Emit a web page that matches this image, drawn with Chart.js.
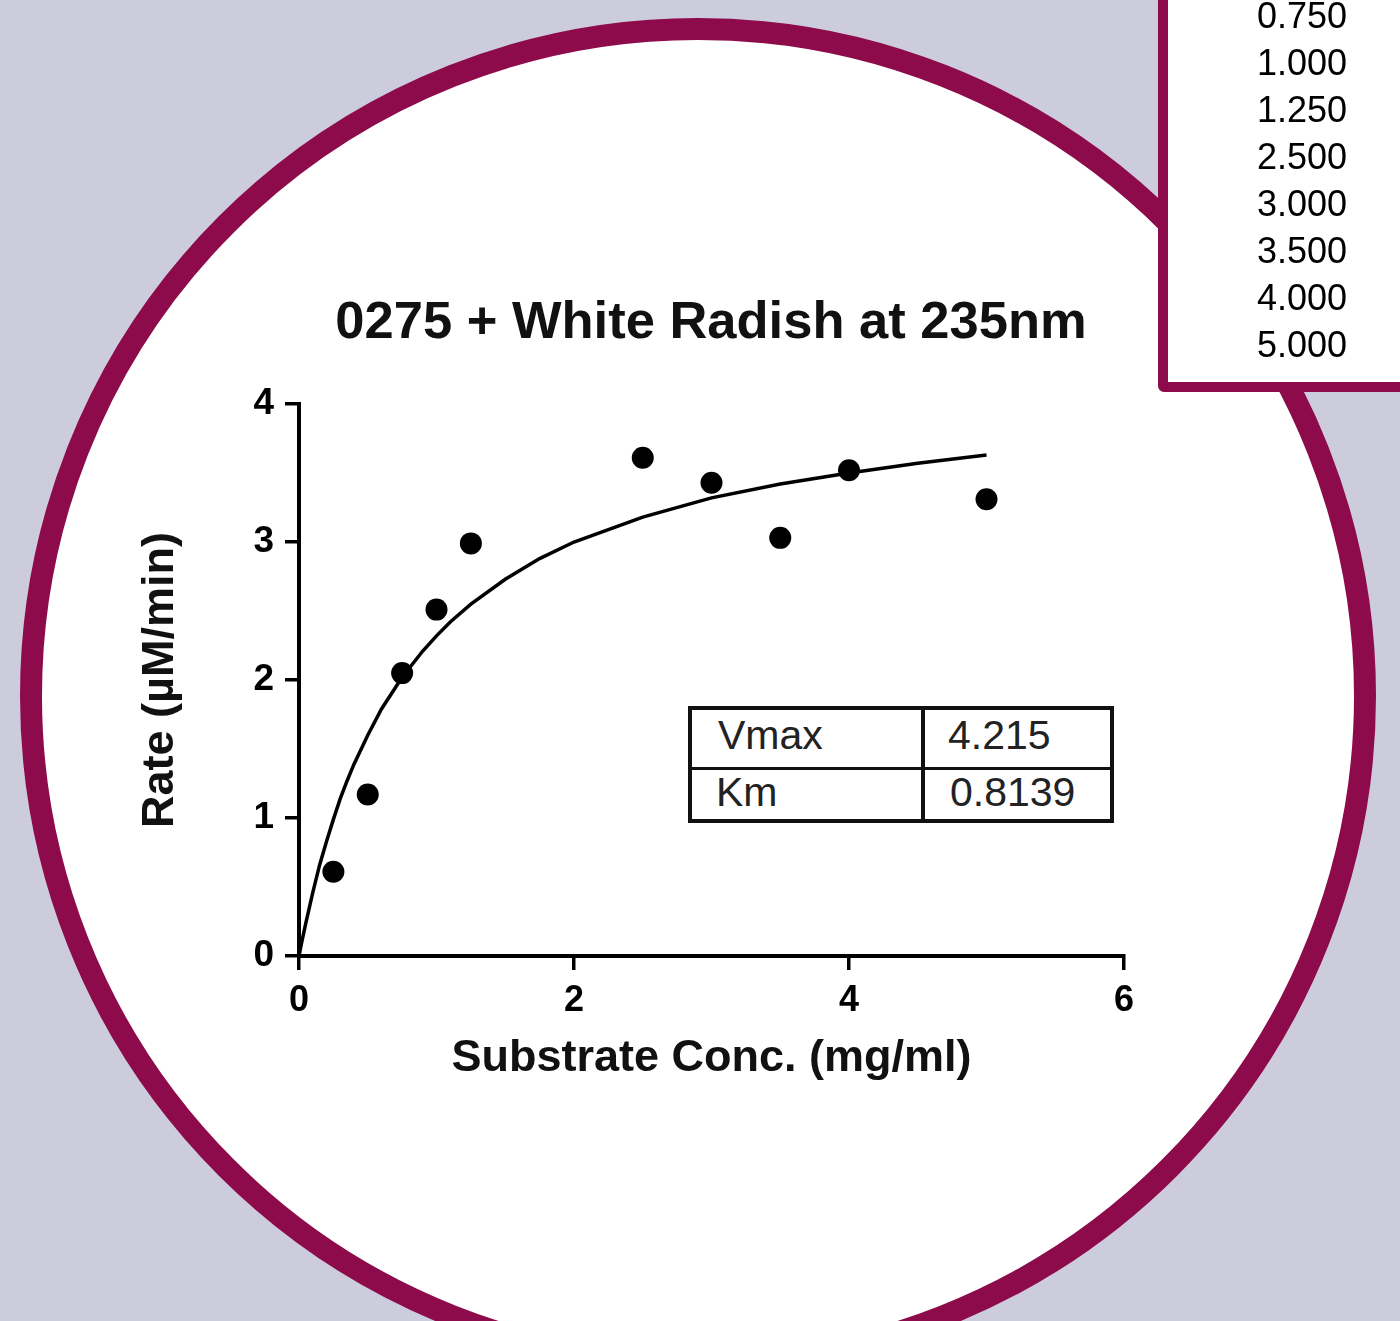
<!DOCTYPE html>
<html>
<head>
<meta charset="utf-8">
<script src="https://cdn.jsdelivr.net/npm/chart.js@4.4.1/dist/chart.umd.min.js"></script>
<style>
  html, body { margin: 0; padding: 0; }
  body { width: 1400px; height: 1321px; overflow: hidden; background: #cdccdd; position: relative; font-family: 'Liberation Sans', Arial, sans-serif; }
  #circle { position: absolute; left: 20px; top: 18px; width: 1356px; height: 1356px; box-sizing: border-box; border: 22px solid #8e0b4b; border-radius: 50%; background: #fff; }
  #box { position: absolute; left: 1158px; top: -20px; width: 300px; height: 412px; box-sizing: border-box; border: 10px solid #8e0b4b; border-radius: 6px; background: #fff; }
  .blabel { position: absolute; right: 53px; font-size: 36px; line-height: 40px; color: #000; text-align: right; }
  #title { position: absolute; left: 311px; width: 800px; top: 289px; text-align: center; font-size: 52.5px; line-height: 62px; font-weight: bold; color: #111; white-space: nowrap; }
  #cv { position: absolute; left: 0; top: 0; }
  #tbl { position: absolute; left: 688px; top: 706px; width: 426px; height: 117px; box-sizing: border-box; border: 4px solid #111; }
  .vdiv { position: absolute; left: 229px; top: 0; width: 4px; height: 100%; background: #111; }
  .hdiv { position: absolute; left: 0; top: 57px; width: 100%; height: 3px; background: #111; }
  .cell { position: absolute; font-size: 41px; line-height: 50px; color: #222; }
</style>
</head>
<body>
<div id="circle"></div>
<div id="box"></div>
<div id="title"></div>
<div id="tbl"><div class="vdiv"></div><div class="hdiv"></div></div>
<canvas id="cv" width="1400" height="1321"></canvas>
<script>
// ---- data ----
const substrate = [0.25, 0.5, 0.75, 1.0, 1.25, 2.5, 3.0, 3.5, 4.0, 5.0];
const rate = [0.61, 1.17, 2.05, 2.51, 2.99, 3.61, 3.43, 3.03, 3.52, 3.31];
const fitX = [0, 0.02, 0.05, 0.1, 0.15, 0.2, 0.25, 0.3, 0.35, 0.4, 0.5, 0.6, 0.75, 0.9, 1.0, 1.1, 1.25, 1.5, 1.75, 2.0, 2.5, 3.0, 3.5, 4.0, 4.5, 5.0];
const fitY = [0, 0.10, 0.24, 0.46, 0.66, 0.83, 0.99, 1.14, 1.27, 1.39, 1.60, 1.79, 2.02, 2.21, 2.32, 2.42, 2.55, 2.73, 2.88, 3.00, 3.18, 3.32, 3.42, 3.50, 3.57, 3.63];
const boxLabels = ['0.750', '1.000', '1.250', '2.500', '3.000', '3.500', '4.000', '5.000'];
const paramNames = ['Vmax', 'Km'];
const paramValues = ['4.215', '0.8139'];
const titleText = '0275 + White Radish at 235nm';
const xTitle = 'Substrate Conc. (mg/ml)';
const yTitle = 'Rate (\u00B5M/min)';

document.getElementById('title').textContent = titleText;

// ---- side box labels ----
boxLabels.forEach((t, i) => {
  const d = document.createElement('div');
  d.className = 'blabel';
  d.textContent = t;
  d.style.top = (16 + 47 * i - 20) + 'px';
  document.body.appendChild(d);
});

// ---- parameter table ----
const tbl = document.getElementById('tbl');
paramNames.forEach((n, i) => {
  const a = document.createElement('div');
  a.className = 'cell'; a.textContent = n;
  a.style.left = (i === 0 ? 26 : 24) + 'px';
  a.style.top = (i === 0 ? 0 : 57) + 'px';
  tbl.appendChild(a);
  const b = document.createElement('div');
  b.className = 'cell'; b.textContent = paramValues[i];
  b.style.left = (i === 0 ? 256 : 258) + 'px';
  b.style.top = (i === 0 ? 0 : 57) + 'px';
  tbl.appendChild(b);
});

// ---- chart ----
const pts = substrate.map((x, i) => ({ x: x, y: rate[i] }));
const curve = fitX.map((x, i) => ({ x: x, y: fitY[i] }));
const FONT = "'Liberation Sans', Arial, sans-serif";

new Chart(document.getElementById('cv'), {
  type: 'scatter',
  data: {
    datasets: [
      { data: pts, backgroundColor: '#000', borderColor: '#000', pointRadius: 11, pointBorderWidth: 0, showLine: false },
      { data: curve, showLine: true, borderColor: '#000', borderWidth: 3.5, pointRadius: 0, fill: false, tension: 0 }
    ]
  },
  options: {
    responsive: false,
    animation: false,
    layout: { padding: { left: 131, right: 276, top: 404, bottom: 235 } },
    plugins: {
      legend: { display: false },
      tooltip: { enabled: false },
      title: { display: false }
    },
    scales: {
      x: {
        type: 'linear', min: 0, max: 6,
        afterFit: s => { s.height = 130; },
        ticks: { stepSize: 2, color: '#000', padding: 9, font: { family: FONT, size: 36, weight: 'bold' } },
        grid: { drawOnChartArea: false, drawTicks: true, tickLength: 14, color: '#000', lineWidth: 3.5 },
        border: { display: true, color: '#000', width: 4 },
        title: { display: true, text: xTitle, color: '#111', padding: { top: 0, bottom: 0 },
                 font: { family: FONT, size: 45, weight: 'bold', lineHeight: 1.2 } }
      },
      y: {
        type: 'linear', min: 0, max: 4,
        afterFit: s => { s.width = 168; },
        ticks: { stepSize: 1, color: '#000', padding: 11, font: { family: FONT, size: 37, weight: 'bold' } },
        grid: { drawOnChartArea: false, drawTicks: true, tickLength: 14, color: '#000', lineWidth: 3.5 },
        border: { display: true, color: '#000', width: 4 },
        title: { display: true, text: yTitle, color: '#111', padding: { top: 3, bottom: 0 },
                 font: { family: FONT, size: 45, weight: 'bold', lineHeight: 1.2 } }
      }
    }
  }
});
</script>
</body>
</html>
